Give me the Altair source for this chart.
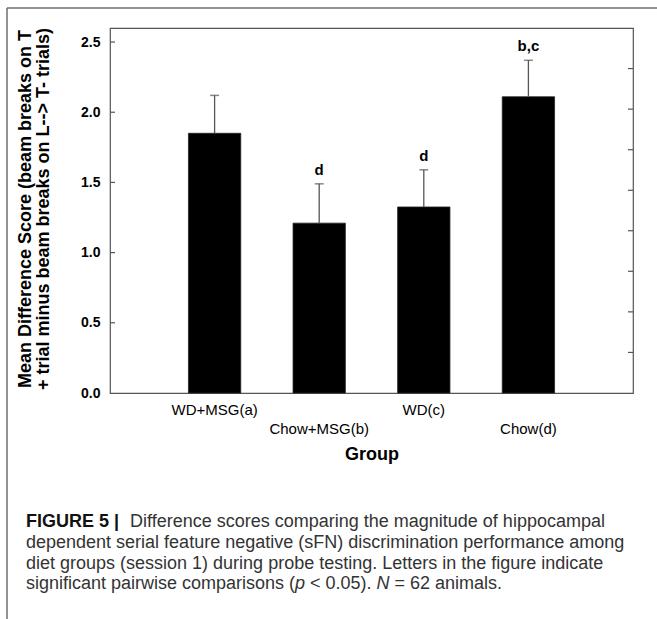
import altair as alt
import pandas as pd

# ---- data ----
groups = ["WD+MSG(a)", "Chow+MSG(b)", "WD(c)", "Chow(d)"]
positions = [1, 2, 3, 4]
means = [1.85, 1.21, 1.325, 2.11]
upper = [2.12, 1.49, 1.59, 2.37]
letters = ["", "d", "d", "b,c"]
label_row = [0, 1, 0, 1]
left_ticks = [0.5, 1.0, 1.5, 2.0, 2.5]
right_ticks = [0.289, 0.578, 0.867, 1.156, 1.444, 1.733, 2.022, 2.311]
y_title = ["Mean Difference Score (beam breaks on T", "+ trial minus beam breaks on L--> T- trials)"]
caption_l1_bold = "FIGURE 5 |"
caption_l1 = "Difference scores comparing the magnitude of hippocampal"
caption_l2 = "dependent serial feature negative (sFN) discrimination performance among"
caption_l3 = "diet groups (session 1) during probe testing. Letters in the figure indicate"
caption_l4 = [("significant pairwise comparisons (", "normal"), ("p", "italic"),
              ("< 0.05).", "normal"), ("N", "italic"), ("= 62 animals.", "normal")]

W, H = 523, 365
FONT = "Liberation Sans"

df = pd.DataFrame({"group": groups, "pos": positions, "mean": means,
                   "upper": upper, "letter": letters, "row": label_row})

xs = alt.Scale(domain=[0, 5], nice=False, zero=False)
ys = alt.Scale(domain=[0, 2.6], nice=False, zero=True)

base = alt.Chart(df)

bars = base.mark_bar(color="black", stroke="#222", strokeWidth=0.8).transform_calculate(
    x1="datum.pos - 0.25", x2="datum.pos + 0.25"
).encode(
    x=alt.X("x1:Q", scale=xs, axis=None),
    x2="x2:Q",
    y=alt.Y("mean:Q", scale=ys,
            axis=alt.Axis(values=[0, 0.5, 1.0, 1.5, 2.0, 2.5], format=".1f", title=None,
                          ticks=False, tickSize=0, domain=False, grid=False,
                          labelFont=FONT, labelFontSize=14, labelFontWeight="bold",
                          labelColor="black", labelPadding=10)),
    y2=alt.datum(0),
)

err = base.mark_rule(color="#555", strokeWidth=1.3).encode(
    x=alt.X("pos:Q", scale=xs), y=alt.Y("mean:Q", scale=ys), y2="upper:Q")
cap = base.mark_tick(color="#555", orient="horizontal", size=9, thickness=1.5).encode(
    x=alt.X("pos:Q", scale=xs), y=alt.Y("upper:Q", scale=ys))
lett = base.mark_text(font=FONT, fontSize=15, fontWeight="bold", dy=-14,
                      baseline="middle", color="black").encode(
    x=alt.X("pos:Q", scale=xs), y=alt.Y("upper:Q", scale=ys), text="letter:N")

xl0 = base.transform_filter("datum.row == 0").mark_text(
    font=FONT, fontSize=15, baseline="middle", color="black").encode(
    x=alt.X("pos:Q", scale=xs), y=alt.value(382), text="group:N")
xl1 = base.transform_filter("datum.row == 1").mark_text(
    font=FONT, fontSize=15, baseline="middle", color="black").encode(
    x=alt.X("pos:Q", scale=xs), y=alt.value(401), text="group:N")

lt = alt.Chart(pd.DataFrame({"v": left_ticks})).mark_rule(color="#555", strokeWidth=1.2).encode(
    y=alt.Y("v:Q", scale=ys), x=alt.value(0), x2=alt.value(5))
rt = alt.Chart(pd.DataFrame({"v": right_ticks})).mark_rule(color="#555", strokeWidth=1.2).encode(
    y=alt.Y("v:Q", scale=ys), x=alt.value(W - 5), x2=alt.value(W))

ytitle = alt.Chart(pd.DataFrame({"t": [y_title]})).mark_text(
    font=FONT, fontSize=18, fontWeight="bold", angle=270, lineHeight=17.5,
    align="center", baseline="middle", color="black").encode(
    x=alt.value(-84), y=alt.value(181), text="t")

xtitle = alt.Chart(pd.DataFrame({"t": ["Group"]})).mark_text(
    font=FONT, fontSize=18, fontWeight="bold", baseline="middle", color="black").encode(
    x=alt.value(262), y=alt.value(427), text="t:N")

frame_l = alt.Chart(pd.DataFrame({"a": [0]})).mark_rule(color="#6e6e6e", strokeWidth=1.5).encode(
    x=alt.value(-103), y=alt.value(-20), y2=alt.value(600))
frame_t = alt.Chart(pd.DataFrame({"a": [0]})).mark_rule(color="#6e6e6e", strokeWidth=1.5).encode(
    x=alt.value(-103), x2=alt.value(560), y=alt.value(-20))

CAP = 18
cap_layers = []
cap_layers.append(alt.Chart(pd.DataFrame({"t": [caption_l1_bold]})).mark_text(
    font=FONT, fontSize=CAP, fontWeight="bold", align="left", baseline="middle", color="#111").encode(
    x=alt.value(-84), y=alt.value(494), text="t:N"))
for txt, yy in [(caption_l1, 494), (caption_l2, 515), (caption_l3, 536)]:
    xx = 20 if txt == caption_l1 else -84
    cap_layers.append(alt.Chart(pd.DataFrame({"t": [txt]})).mark_text(
        font=FONT, fontSize=CAP, align="left", baseline="middle", color="#333").encode(
        x=alt.value(xx), y=alt.value(yy), text="t:N"))
seg_x = [-84, 185, 200, 266.5, 284.5]
for (txt, style), xx in zip(caption_l4, seg_x):
    cap_layers.append(alt.Chart(pd.DataFrame({"t": [txt]})).mark_text(
        font=FONT, fontSize=CAP, fontStyle=style, align="left", baseline="middle", color="#333").encode(
        x=alt.value(xx), y=alt.value(556), text="t:N"))

chart = alt.layer(bars, err, cap, lett, xl0, xl1, lt, rt, ytitle, xtitle, frame_l, frame_t,
                  *cap_layers).properties(
    width=W, height=H,
    autosize=alt.AutoSizeParams(type="none"),
    padding={"left": 110, "top": 28, "right": 24, "bottom": 226},
    background="white",
).configure_view(stroke="#555", strokeWidth=1.2)

chart.save("out.html", embed_options={"renderer": "svg", "actions": False})
